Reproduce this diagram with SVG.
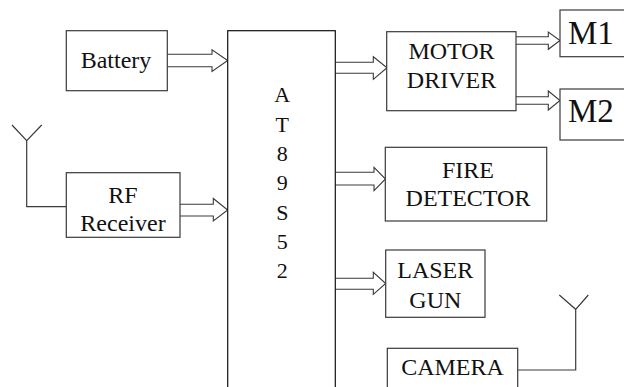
<svg xmlns="http://www.w3.org/2000/svg" width="624" height="387" viewBox="0 0 624 387">
<style>
.box{fill:#fff;stroke:#3a3a3a;stroke-width:1.2}
.main{fill:#fff;stroke:#111;stroke-width:1.2}
.arr{fill:#fff;stroke:#3a3a3a;stroke-width:1.1;stroke-linejoin:miter}
.wire{fill:none;stroke:#3a3a3a;stroke-width:1.2}
.t{font-family:'Liberation Serif','Times New Roman',Tinos,'Noto Serif','DejaVu Serif',FreeSerif,'Nimbus Roman','Nimbus Roman No9 L',Times,serif;fill:#111;text-anchor:middle;font-size:24px}
.big{font-size:33px;text-anchor:start}
.chip{font-size:22px}
</style>
<rect width="624" height="387" fill="#fff"/>
<g id="connectors">
<path class="arr" d="M167,54.3 H212 V49.8 L227.7,60.5 L212,71.5 V66.7 H167"/>
<path class="arr" d="M180,204.3 H213.3 V198.5 L227.7,210 L213.3,221 V216 H180"/>
<path class="arr" d="M335,62.3 H373.3 V56.7 L387,67.7 L373.3,79.3 V73.3 H335"/>
<path class="arr" d="M516,36.7 H548.3 V32 L560,40.5 L548.3,49.3 V44.3 H516"/>
<path class="arr" d="M516,96.7 H548.3 V91 L560,100.5 L548.3,110 V104.3 H516"/>
<path class="arr" d="M335,172.3 H374 V167.3 L385.5,179 L374,190.7 V185 H335"/>
<path class="arr" d="M335,278.3 H373.3 V272.3 L385.7,283.5 L373.3,294.3 V289.3 H335"/>
<path class="wire" d="M66,206.7 H26.7 V140.7 M12,125 L26.7,140.7 L41.7,125"/>
<path class="wire" d="M518,370 H575.7 V309.3 M559.3,295 L575.7,309.3 L588.3,295"/>
</g>
<g id="battery">
<rect class="box" x="66.3" y="30.7" width="101" height="60"/>
<text class="t" x="116" y="67.5">Battery</text>
</g>
<g id="rf-receiver">
<rect class="box" x="66.3" y="172.7" width="113.7" height="64.6"/>
<text class="t" x="123" y="202.5">RF</text>
<text class="t" x="123" y="231">Receiver</text>
</g>
<g id="at89s52">
<rect class="main" x="227.7" y="30.7" width="107.6" height="380"/>
<text class="t chip" x="282.3" y="101.7">A</text>
<text class="t chip" x="282.3" y="131.5">T</text>
<text class="t chip" x="282.3" y="160.7">8</text>
<text class="t chip" x="282.3" y="190">9</text>
<text class="t chip" x="282.3" y="220">S</text>
<text class="t chip" x="282.3" y="249.3">5</text>
<text class="t chip" x="282.3" y="278.3">2</text>
</g>
<g id="motor-driver">
<rect class="box" x="386.7" y="31.7" width="129.3" height="79"/>
<text class="t" x="451.5" y="59.3">MOTOR</text>
<text class="t" x="451.5" y="88.3">DRIVER</text>
</g>
<g id="m1">
<rect class="box" x="560" y="10" width="80" height="46.7"/>
<text class="t big" x="568" y="44.3">M1</text>
</g>
<g id="m2">
<rect class="box" x="560" y="89" width="80" height="51"/>
<text class="t big" x="568" y="122.3">M2</text>
</g>
<g id="fire-detector">
<rect class="box" x="385.3" y="147.3" width="161.4" height="73.7"/>
<text class="t" x="468" y="178.3">FIRE</text>
<text class="t" x="468" y="206">DETECTOR</text>
</g>
<g id="laser-gun">
<rect class="box" x="385.7" y="250" width="99.3" height="67.3"/>
<text class="t" x="435.3" y="278.3">LASER</text>
<text class="t" x="435.3" y="308.3">GUN</text>
</g>
<g id="camera">
<rect class="box" x="387.3" y="348.3" width="130.4" height="60"/>
<text class="t" x="452.5" y="375">CAMERA</text>
</g>
</svg>
